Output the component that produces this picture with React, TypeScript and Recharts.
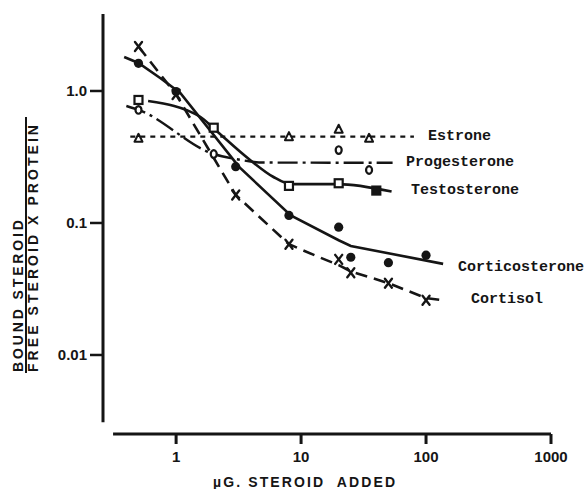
import React from "react";
import { ComposedChart, Line, Scatter, XAxis, YAxis, ReferenceLine } from "recharts";

const INK = "#151515";

// measured points: µg steroid added vs bound/(free x protein)
const cortisolDose = [0.5, 1, 3, 8, 20, 25, 50, 100];
const cortisolRatio = [2.17, 0.94, 0.163, 0.069, 0.053, 0.042, 0.035, 0.026];
const corticoDose = [0.5, 1, 3, 8, 20, 25, 50, 100];
const corticoRatio = [1.62, 0.99, 0.267, 0.114, 0.093, 0.055, 0.05, 0.057];
const testoDose = [0.5, 2, 8, 20, 40];
const testoRatio = [0.855, 0.527, 0.191, 0.2, 0.176];
const testoFilled = [false, false, false, false, true];
const progDose = [0.5, 2, 20, 35];
const progRatio = [0.718, 0.333, 0.357, 0.252];
const estroneDose = [0.5, 8, 20, 35];
const estroneRatio = [0.438, 0.451, 0.513, 0.438];

// hand drawn curves through the points
const cortisolCurveX = [0.5, 1, 3, 8, 14, 20, 25, 50, 100, 137];
const cortisolCurveY = [2.17, 0.94, 0.163, 0.069, 0.055, 0.048, 0.043, 0.035, 0.027, 0.026];
const corticoCurveX = [0.384, 0.5, 0.75, 1.08, 3.19, 8.27, 20, 25, 137];
const corticoCurveY = [1.81, 1.63, 1.25, 0.966, 0.266, 0.114, 0.074, 0.067, 0.049];
const testoCurveX = [0.597, 1.56, 1.98, 3.91, 5.97, 8.27, 19.7, 53];
const testoCurveY = [0.84, 0.638, 0.525, 0.3, 0.224, 0.197, 0.197, 0.173];
const progCurveX = [0.4, 0.5, 2, 3, 5, 54];
const progCurveY = [0.77, 0.72, 0.333, 0.305, 0.287, 0.286];
const estroneCurveX = [0.43, 80];
const estroneCurveY = [0.451, 0.451];

const xTicks = [1, 10, 100, 1000];
const yTicks = [0.01, 0.1, 1];

const seriesNames = ["Estrone", "Progesterone", "Testosterone", "Corticosterone", "Cortisol"];
// where each name sits, in data units
const nameX = [103.7, 69.2, 75.9, 180, 229];
const nameY = [0.451, 0.285, 0.175, 0.0464, 0.0261];

const pts = (xs: number[], ys: number[]) => xs.map((x, i) => ({ x, y: ys[i] }));

const XMark = ({ cx, cy }: any) => (
  <g stroke={INK} strokeWidth={2.4} strokeLinecap="round">
    <line x1={cx - 3.5} y1={cy - 4.5} x2={cx + 3.5} y2={cy + 4.5} />
    <line x1={cx + 3.5} y1={cy - 4.5} x2={cx - 3.5} y2={cy + 4.5} />
  </g>
);
const DotMark = ({ cx, cy }: any) => <circle cx={cx} cy={cy} r={4.6} fill={INK} />;
const SquareMark = ({ cx, cy, payload }: any) => (
  <rect
    x={cx - 4}
    y={cy - 4}
    width={8}
    height={8}
    fill={payload.filled ? INK : "#fff"}
    stroke={INK}
    strokeWidth={2.2}
  />
);
const RingMark = ({ cx, cy }: any) => (
  <ellipse cx={cx} cy={cy} rx={3} ry={3.8} fill="#fff" stroke={INK} strokeWidth={2.2} />
);
const TriMark = ({ cx, cy }: any) => (
  <path
    d={`M${cx},${cy - 4.5}L${cx + 4},${cy + 3.5}L${cx - 4},${cy + 3.5}Z`}
    fill="#fff"
    stroke={INK}
    strokeWidth={2}
    strokeLinejoin="round"
  />
);
const NameMark = ({ cx, cy, payload }: any) => (
  <text
    x={cx}
    y={cy}
    dominantBaseline="central"
    fontFamily="'Liberation Mono', monospace"
    fontWeight={700}
    fontSize={15}
    fill={INK}
  >
    {payload.name}
  </text>
);

const tickFont = { fontSize: 15, fontWeight: 700, fill: INK, fontFamily: "'Liberation Sans', sans-serif" };

export default function App() {
  const labels = seriesNames.map((name, i) => ({ x: nameX[i], y: nameY[i], name }));
  const testo = testoDose.map((x, i) => ({ x, y: testoRatio[i], filled: testoFilled[i] }));

  return (
    <div style={{ position: "absolute", left: 0, top: 0, width: 584, height: 489, background: "#fff" }}>
      <ComposedChart width={584} height={489} margin={{ top: 14, right: 33, bottom: 0, left: 43 }}>
        <XAxis
          dataKey="x"
          type="number"
          scale="log"
          domain={[0.26, 1000]}
          ticks={xTicks}
          interval={0}
          height={55}
          axisLine={false}
          tickSize={10}
          tickMargin={7}
          tickLine={{ stroke: INK, strokeWidth: 3 }}
          tick={tickFont}
        />
        <YAxis
          dataKey="y"
          type="number"
          scale="log"
          domain={[0.00252, 3.83]}
          ticks={yTicks}
          interval={0}
          width={60}
          axisLine={false}
          tickSize={13}
          tickMargin={3}
          tickLine={{ stroke: INK, strokeWidth: 2.5 }}
          tick={tickFont}
          tickFormatter={(v: number) => (v === 1 ? "1.0" : String(v))}
        />
        <ReferenceLine
          segment={[{ x: 0.26, y: 0.0031 }, { x: 0.26, y: 3.83 }]}
          stroke={INK}
          strokeWidth={3}
          ifOverflow="visible"
        />
        <ReferenceLine
          segment={[{ x: 0.313, y: 0.00252 }, { x: 1000, y: 0.00252 }]}
          stroke={INK}
          strokeWidth={3}
          ifOverflow="visible"
        />

        <Line data={pts(estroneCurveX, estroneCurveY)} dataKey="y" type="linear" stroke={INK} strokeWidth={2.2} strokeDasharray="5 5" dot={false} isAnimationActive={false} />
        <Line data={pts(progCurveX, progCurveY)} dataKey="y" type="monotone" stroke={INK} strokeWidth={2.4} strokeDasharray="20 5 3 5" dot={false} isAnimationActive={false} />
        <Line data={pts(testoCurveX, testoCurveY)} dataKey="y" type="monotone" stroke={INK} strokeWidth={2.6} dot={false} isAnimationActive={false} />
        <Line data={pts(corticoCurveX, corticoCurveY)} dataKey="y" type="linear" stroke={INK} strokeWidth={2.6} dot={false} isAnimationActive={false} />
        <Line data={pts(cortisolCurveX, cortisolCurveY)} dataKey="y" type="linear" stroke={INK} strokeWidth={2.6} strokeDasharray="12 7" dot={false} isAnimationActive={false} />

        <Scatter data={pts(estroneDose, estroneRatio)} dataKey="y" shape={TriMark} isAnimationActive={false} />
        <Scatter data={pts(progDose, progRatio)} dataKey="y" shape={RingMark} isAnimationActive={false} />
        <Scatter data={testo} dataKey="y" shape={SquareMark} isAnimationActive={false} />
        <Scatter data={pts(corticoDose, corticoRatio)} dataKey="y" shape={DotMark} isAnimationActive={false} />
        <Scatter data={pts(cortisolDose, cortisolRatio)} dataKey="y" shape={XMark} isAnimationActive={false} />
        <Scatter data={labels} dataKey="y" shape={NameMark} isAnimationActive={false} />
      </ComposedChart>

      <svg
        width={584}
        height={489}
        style={{ position: "absolute", left: 0, top: 0, pointerEvents: "none" }}
        fontFamily="'Liberation Sans', sans-serif"
        fontWeight={700}
        fill={INK}
      >
        <text transform="translate(23,372) rotate(-90)" fontSize={14} textLength={152} lengthAdjust="spacing">
          BOUND STEROID
        </text>
        <line x1={26} y1={117} x2={26} y2={373} stroke={INK} strokeWidth={2} />
        <text transform="translate(38,372) rotate(-90)" fontSize={14} textLength={247} lengthAdjust="spacing">
          FREE STEROID X PROTEIN
        </text>
        <text x={304} y={487} textAnchor="middle" fontSize={14} textLength={182} lengthAdjust="spacing" style={{ whiteSpace: "pre" }}>
          µG. STEROID  ADDED
        </text>
      </svg>
    </div>
  );
}
